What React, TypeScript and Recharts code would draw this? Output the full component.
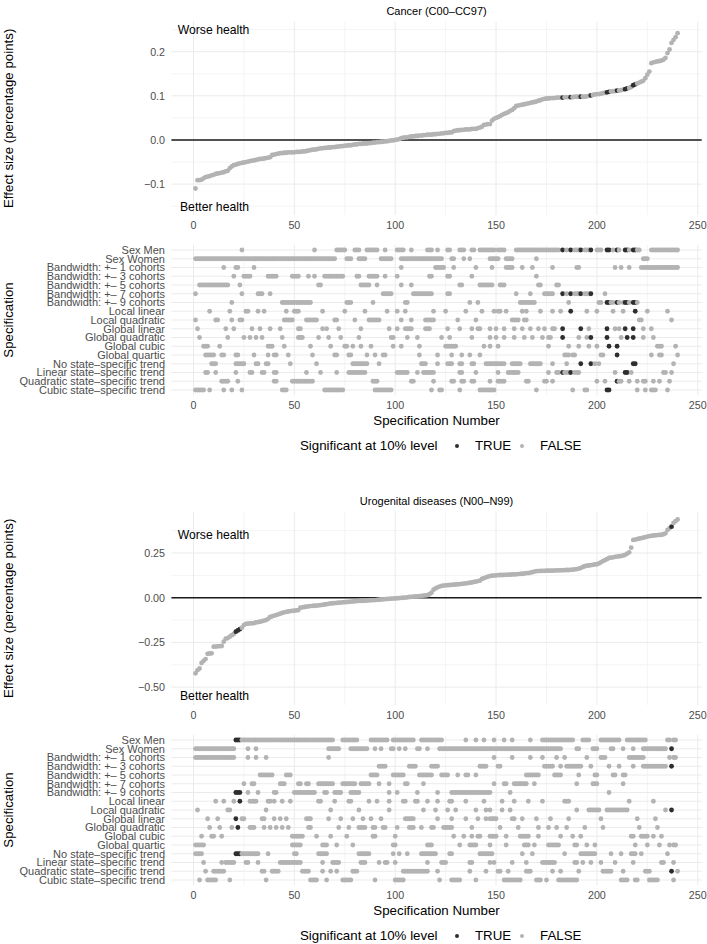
import React from "react";
import { ScatterChart, Scatter, XAxis, YAxis, ReferenceLine, ReferenceDot } from "recharts";

const FONT = '"Liberation Sans", Arial, Helvetica, sans-serif';
const GRAY = "#b3b3b3";
const DARK = "#2e2e2e";
const GRID = "#ebebeb";
const GRID_MINOR = "#f4f4f4";
const TICK = "#4d4d4d";

const X_TICKS = [0, 50, 100, 150, 200, 250];
const X_MINOR = [25, 75, 125, 175, 225];
const X_DOMAIN = [-10.95, 251.95];

const ROW_LABELS = [
  "Sex Men",
  "Sex Women",
  "Bandwidth: +\u2013 1 cohorts",
  "Bandwidth: +\u2013 3 cohorts",
  "Bandwidth: +\u2013 5 cohorts",
  "Bandwidth: +\u2013 7 cohorts",
  "Bandwidth: +\u2013 9 cohorts",
  "Local linear",
  "Local quadratic",
  "Global linear",
  "Global quadratic",
  "Global cubic",
  "Global quartic",
  "No state\u2013specific trend",
  "Linear state\u2013specific trend",
  "Quadratic state\u2013specific trend",
  "Cubic state\u2013specific trend",
];
const ROW_TICKS = ROW_LABELS.map((_, i) => i + 1);

// ---- Cancer (C00–CC97) ----
const cancerEffect = [
  -0.110, -0.091, -0.091, -0.090, -0.087, -0.084, -0.083, -0.082, -0.080, -0.079,
  -0.077, -0.076, -0.075, -0.074, -0.073, -0.071, -0.070, -0.064, -0.060, -0.057,
  -0.056, -0.054, -0.053, -0.052, -0.051, -0.050, -0.049, -0.048, -0.047, -0.046,
  -0.045, -0.044, -0.043, -0.043, -0.042, -0.041, -0.040, -0.039, -0.034, -0.033,
  -0.032, -0.031, -0.030, -0.030, -0.029, -0.029, -0.028, -0.028, -0.028, -0.028,
  -0.027, -0.027, -0.027, -0.026, -0.026, -0.025, -0.024, -0.023, -0.022, -0.022,
  -0.021, -0.020, -0.019, -0.019, -0.018, -0.018, -0.017, -0.017, -0.016, -0.016,
  -0.015, -0.015, -0.014, -0.014, -0.013, -0.013, -0.012, -0.012, -0.011, -0.010,
  -0.010, -0.009, -0.009, -0.008, -0.008, -0.008, -0.007, -0.007, -0.006, -0.006,
  -0.005, -0.005, -0.004, -0.004, -0.003, -0.003, -0.002, -0.001, -0.001, 0.000,
  0.001, 0.002, 0.004, 0.005, 0.006, 0.006, 0.007, 0.008, 0.008, 0.009,
  0.009, 0.010, 0.010, 0.011, 0.011, 0.012, 0.012, 0.012, 0.013, 0.013,
  0.014, 0.014, 0.015, 0.015, 0.016, 0.016, 0.017, 0.017, 0.020, 0.021,
  0.022, 0.022, 0.023, 0.023, 0.024, 0.024, 0.024, 0.025, 0.025, 0.025,
  0.027, 0.028, 0.030, 0.034, 0.035, 0.036, 0.036, 0.044, 0.048, 0.050,
  0.052, 0.054, 0.057, 0.059, 0.061, 0.063, 0.066, 0.068, 0.072, 0.077,
  0.078, 0.079, 0.080, 0.081, 0.082, 0.083, 0.084, 0.085, 0.086, 0.087,
  0.089, 0.090, 0.092, 0.093, 0.094, 0.094, 0.095, 0.095, 0.095, 0.096,
  0.096, 0.096, 0.096, 0.097, 0.097, 0.097, 0.097, 0.097, 0.098, 0.098,
  0.098, 0.098, 0.098, 0.098, 0.099, 0.100, 0.101, 0.102, 0.103, 0.104,
  0.104, 0.105, 0.106, 0.107, 0.108, 0.109, 0.110, 0.110, 0.111, 0.112,
  0.112, 0.113, 0.114, 0.115, 0.117, 0.118, 0.120, 0.124, 0.126, 0.128,
  0.130, 0.132, 0.134, 0.140, 0.148, 0.155, 0.174, 0.176, 0.177, 0.178,
  0.179, 0.180, 0.182, 0.186, 0.197, 0.205, 0.220, 0.227, 0.233, 0.242,
];
const cancerSig = [183, 187, 192, 197, 205, 206, 210, 214, 215, 218, 219];
const cancerRows = [
  "24,60,71-75,80-82,86-91,95,101-104,108,116-118,121,126,127,132-134,138,139,142-149,151-154,160-181,183,185,187,189-192,194-197,200-202,205,206,208,210,211,214-216,218-221,227-240",
  "1-70,76-78,82-85,93-98,103-123,128,129,134,137,147-151,155-158,170,223-225",
  "15,21,22,30,103,120-124,129,140,148,155-158,163,168,178,190,191,209,212,216,222-240",
  "20,25-28,37-41,49-52,57,60,65-74,81,82,87-91,95,101,117,118,126,127,138,170",
  "3-17,23,62,63,83-87,91,103,108,132,133,142-148,152-154,171,172,180,181",
  "1,24,32-34,38,94-98,109-118,126,127,160,167,174-178,183,185,187,189-192,194-197,204",
  "19,44-58,76-78,89,105,106,137,141,162-169,186,201,202,205-208,210,211,213-216,218-220",
  "8,18,26,27,32,35,46,50-52,64,75,85,96,101,105,119,125,135,143,149,151,152,155,163,165,172,178,182,187,195,200,208,213,219,225,235",
  "1,11,12,19,23,24,45-49,56-61,70,71,80,87-92,103,108,115-119,131,140,158-161,164,165,221,222,237",
  "2,16,20,29,33,38,43,52,53,64,66,72,83,97,101,105-108,115-117,126,132,138,141,142,147,150,154,159,163,167,171,174,178,179,183,192,196,205,209,211,214,218,223,227",
  "3,17,25,28,31,34,44,52-54,62,67,73,82,98,99,106,111,123,127,138,147,150,154,159,164,168,173,176,177,183,191,195,197,205,212,215,218,223,228",
  "5-7,13,37-39,45,58,68,75,76,79,83,88,99,103,112,125-130,144,147,151,176,186,191,196,200,206,210,230-232,239",
  "6-10,14,15,21,22,30,37,40,41,47,59,70,71,77,78,86,90,94,95,112,121,128,133,137,142,184-186,188,189,202,203,210,227,231,232,240",
  "9-11,21-25,31,32,36,37,48,61,79-86,92,113-115,121,126-128,132,133,138,139,145-154,158-162,167-172,178,185,192,197,199,201,218,219,238",
  "6,7,11,21,28,29,34,35,40,41,56,63,71,77-85,101-106,111,114-119,132,133,140,151,156-161,176,180,181,183-187,189-191,209,214,215,217,233,234,237",
  "14-17,22,40,41,49-59,89-91,108,109,119,128,129,133,134,138,139,147,151-154,165,166,174,175,178,200,204,210-212,216,220,223,224,228,231,236",
  "1-5,8,15,19,24,44-46,65-74,90-98,118,122,123,132,142-149,170,188,194,195,205,206,220,224,227-229,235",
];

// ---- Urogenital diseases (N00–N99) ----
const uroEffect = [
  -0.423, -0.405, -0.396, -0.365, -0.354, -0.343, -0.314, -0.312, -0.311, -0.274,
  -0.273, -0.272, -0.271, -0.270, -0.246, -0.229, -0.226, -0.218, -0.210, -0.203,
  -0.190, -0.183, -0.176, -0.168, -0.153, -0.146, -0.145, -0.144, -0.143, -0.142,
  -0.138, -0.136, -0.134, -0.131, -0.128, -0.125, -0.118, -0.108, -0.104, -0.100,
  -0.097, -0.093, -0.089, -0.085, -0.082, -0.079, -0.077, -0.075, -0.074, -0.073,
  -0.071, -0.069, -0.056, -0.054, -0.052, -0.050, -0.048, -0.047, -0.046, -0.045,
  -0.044, -0.043, -0.041, -0.040, -0.038, -0.036, -0.034, -0.032, -0.031, -0.030,
  -0.029, -0.028, -0.027, -0.026, -0.025, -0.024, -0.023, -0.022, -0.021, -0.020,
  -0.019, -0.018, -0.018, -0.017, -0.017, -0.016, -0.015, -0.014, -0.014, -0.013,
  -0.012, -0.011, -0.010, -0.009, -0.008, -0.007, -0.006, -0.005, -0.005, -0.004,
  -0.003, -0.002, -0.001, 0.000, 0.001, 0.002, 0.004, 0.005, 0.006, 0.007,
  0.008, 0.009, 0.010, 0.012, 0.013, 0.014, 0.020, 0.028, 0.045, 0.052,
  0.058, 0.062, 0.066, 0.068, 0.069, 0.070, 0.071, 0.072, 0.073, 0.074,
  0.075, 0.076, 0.077, 0.079, 0.080, 0.082, 0.084, 0.085, 0.088, 0.090,
  0.093, 0.095, 0.105, 0.109, 0.114, 0.118, 0.121, 0.123, 0.124, 0.125,
  0.126, 0.127, 0.127, 0.128, 0.128, 0.129, 0.129, 0.130, 0.130, 0.131,
  0.132, 0.133, 0.134, 0.135, 0.137, 0.138, 0.140, 0.143, 0.146, 0.149,
  0.149, 0.150, 0.150, 0.150, 0.151, 0.151, 0.151, 0.152, 0.152, 0.153,
  0.153, 0.153, 0.154, 0.154, 0.155, 0.155, 0.156, 0.157, 0.158, 0.160,
  0.163, 0.166, 0.172, 0.176, 0.179, 0.180, 0.182, 0.184, 0.186, 0.187,
  0.192, 0.198, 0.205, 0.210, 0.216, 0.222, 0.224, 0.226, 0.228, 0.230,
  0.232, 0.233, 0.236, 0.240, 0.247, 0.254, 0.280, 0.323, 0.325, 0.328,
  0.331, 0.333, 0.336, 0.339, 0.342, 0.344, 0.346, 0.348, 0.349, 0.350,
  0.351, 0.352, 0.355, 0.360, 0.379, 0.388, 0.397, 0.418, 0.428, 0.438,
];
const uroSig = [21, 22, 23, 237];
const uroRows = [
  "21-69,74-81,88-96,99-109,113-123,135,140,144,149,154,158,167,173-188,193-196,202-211,215-224,235,236,238,239",
  "1-20,27,31,67-72,78-86,90,93,98,99,102,105,111,112,116,122-182,190,191,198-200,207,208,213,218,223-234,237",
  "1-20,27,31,36,67,149,158,167,173,180,184,195,202-204,216-223,236,238,239",
  "92-95,107-110,118-121,142-145,151,152,174-178,182,185-192,197,206,211,218,223-234,237",
  "33-39,46-48,88-91,99-104,112-118,123-126,131,135,136,140,165-171,179-182,191,199,200,208,209,213,214",
  "25,29,30,43-45,52,53,56,57,62-69,74-80,83-87,92,97,105,106,114,149,154,155,159-165,169,190,198-200,213",
  "21-23,27,32,40,41,50-60,65,66,70-73,78-82,97,101,111,121,128-147,157,206",
  "11,15,20,23,28-31,37,38,40,44,48,62,63,70,77,78,87,91,97,104,105,110,111,116,121,127,128,135,144,153,159,166,173,184-186,216,228",
  "2,17,18,36,68,82,97,114,120,126,130,140,145,147,153,157,190,196-201,205-215,234,237",
  "7,12,21,24,25,34,35,40,43,46,56-58,67,73,79,84,88,93,105-109,121,128,135,141,145,147-150,158,159,163,170,177,186,202,220,229",
  "8,13,19,22,28-30,35,38,41,44,47,57,58,72,77,82-85,89,90,94,95,101,107-109,113,118,119,124-128,138,152,161,171,176,180,185,194,203,221,230",
  "4,9,10,14,49-54,61,68,76,89,90,100,129,134,138,141,142,147-150,155,162-166,171,182,188,192,217,218,222-225,228,232",
  "1-5,49-53,64-66,71,79,99,100,116-118,132,137-140,147,155,164-166,169,176-181,189,190,195,199,219,225,231,236,238,239",
  "1-4,21-32,37,50,51,62-66,82-87,99,102,106,113-120,127,128,142-148,163,168,184,192-199,207,212,217-219,222,235",
  "5,14,16-20,26,27,32,43-53,64,69-72,83-85,92,95,96,100,116,123-125,137,138,147,149,158,165,173-179,189,190,193,197,202,209,218,232,233,238",
  "6,10-15,34,35,39-42,54-57,64,68,71,79-81,104-116,121,137,145,151,152,156,165-167,178,182,191,203-207,213,224-226,237,240",
  "3,7-11,18,36,58-61,66,74-78,90,100-104,122,128-132,140,154-162,170-172,175,181-190,212-215,219,220,226-230,238",
];

const parseSpecs = (s: string): number[] => {
  const out = new Set<number>();
  s.split(",").forEach((part) => {
    const [a, b] = part.split("-").map(Number);
    if (b === undefined || isNaN(b)) out.add(a);
    else for (let k = a; k <= b; k++) out.add(k);
  });
  return Array.from(out).sort((p, q) => p - q);
};

const signed = (digits: number) => (v: number) =>
  (v < 0 ? "\u2212" : "") + Math.abs(v).toFixed(digits);

const renderDot = (props: any) => {
  const { cx, cy } = props;
  const sig = props.payload ? props.payload.sig : props.sig;
  if (cx == null || cy == null) return <g />;
  return <circle cx={cx} cy={cy} r={2.4} fill={sig ? DARK : GRAY} />;
};

// plain svg ticks so long labels never wrap
const makeYTick = (fmt: (v: number) => string, size: number) => (props: any) => (
  <text x={props.x} y={props.y} dy="0.355em" textAnchor="end" fontSize={size} fill={TICK}>
    {fmt(props.payload.value)}
  </text>
);
const XTick = (props: any) => (
  <text x={props.x} y={props.y} dy="0.71em" textAnchor="middle" fontSize={10.7} fill={TICK}>
    {props.payload.value}
  </text>
);
const RowTick = makeYTick((v) => ROW_LABELS[v - 1], 11);

type PanelProps = {
  top: number;
  title: string;
  effect: number[];
  sig: number[];
  rows: string[];
  yTicks: number[];
  yMinor: number[];
  yDomain: number[];
  digits: number;
  worseY: number;
  betterY: number;
};

function Panel({ top, title, effect, sig, rows, yTicks, yMinor, yDomain, digits, worseY, betterY }: PanelProps) {
  const sigSet = new Set(sig);
  const effectData = effect.map((v, i) => ({ n: i + 1, v, sig: sigSet.has(i + 1) }));
  const matrixData = rows.flatMap((s, r) =>
    parseSpecs(s).map((n) => ({ n, row: r + 1, sig: sigSet.has(n) }))
  );
  const EffectTick = makeYTick(signed(digits), 10.7);

  return (
    <div style={{ position: "absolute", left: 0, top, width: 707, height: 490 }}>
      <div
        style={{
          position: "absolute",
          left: 171.4,
          width: 530.3,
          top: 5.6,
          textAlign: "center",
          fontSize: 11,
          lineHeight: 1,
          color: "#000",
        }}
      >
        {title}
      </div>

      <div style={{ position: "absolute", left: 0, top: 0 }}>
        <ScatterChart width={707} height={235} margin={{ top: 21.7, right: 5.3, bottom: 0, left: 0 }}>
          {X_MINOR.map((x) => (
            <ReferenceLine key={"xm" + x} x={x} stroke={GRID_MINOR} strokeWidth={1} />
          ))}
          {yMinor.map((y) => (
            <ReferenceLine key={"ym" + y} y={y} stroke={GRID_MINOR} strokeWidth={1} />
          ))}
          {X_TICKS.map((x) => (
            <ReferenceLine key={"x" + x} x={x} stroke={GRID} strokeWidth={1} />
          ))}
          {yTicks.map((y) => (
            <ReferenceLine key={"y" + y} y={y} stroke={GRID} strokeWidth={1} />
          ))}
          <ReferenceLine y={0} stroke="#1a1a1a" strokeWidth={1.5} />
          <XAxis
            type="number"
            dataKey="n"
            domain={X_DOMAIN}
            ticks={X_TICKS}
            interval={0}
            allowDataOverflow
            axisLine={false}
            tickLine={false}
            tickSize={0}
            tickMargin={6.4}
            height={20}
            tick={XTick}
          />
          <YAxis
            type="number"
            dataKey="v"
            domain={yDomain}
            ticks={yTicks}
            interval={0}
            allowDataOverflow
            width={171.4}
            axisLine={false}
            tickLine={false}
            tickSize={0}
            tickMargin={6.4}
            tick={EffectTick}
            label={{
              value: "Effect size (percentage points)",
              angle: -90,
              position: "insideLeft",
              offset: 8.3,
              fontSize: 13.3,
              fill: "#000",
              style: { textAnchor: "middle" },
            }}
          />
          <Scatter data={effectData} isAnimationActive={false} shape={renderDot} />
          <ReferenceDot
            x={-7.8}
            y={worseY}
            r={0}
            fill="none"
            stroke="none"
            label={{ value: "Worse health", position: "right", offset: 0, fontSize: 12.2, fill: "#000" }}
          />
          <ReferenceDot
            x={-6.7}
            y={betterY}
            r={0}
            fill="none"
            stroke="none"
            label={{ value: "Better health", position: "right", offset: 0, fontSize: 12.2, fill: "#000" }}
          />
        </ScatterChart>
      </div>

      <div style={{ position: "absolute", left: 0, top: 235 }}>
        <ScatterChart width={707} height={195} margin={{ top: 9.75, right: 5.3, bottom: 0, left: 0 }}>
          {X_MINOR.map((x) => (
            <ReferenceLine key={"xm" + x} x={x} stroke={GRID_MINOR} strokeWidth={1} />
          ))}
          {X_TICKS.map((x) => (
            <ReferenceLine key={"x" + x} x={x} stroke={GRID} strokeWidth={1} />
          ))}
          {ROW_TICKS.map((y) => (
            <ReferenceLine key={"r" + y} y={y} stroke={GRID} strokeWidth={1} />
          ))}
          <XAxis
            type="number"
            dataKey="n"
            domain={X_DOMAIN}
            ticks={X_TICKS}
            interval={0}
            allowDataOverflow
            axisLine={false}
            tickLine={false}
            tickSize={0}
            tickMargin={6.6}
            height={34.75}
            tick={XTick}
            label={{
              value: "Specification Number",
              position: "insideBottom",
              offset: 5.3,
              fontSize: 13.3,
              fill: "#000",
            }}
          />
          <YAxis
            type="number"
            dataKey="row"
            domain={[0.4, 17.6]}
            reversed
            ticks={ROW_TICKS}
            interval={0}
            allowDataOverflow
            width={171.4}
            axisLine={false}
            tickLine={false}
            tickSize={0}
            tickMargin={6.4}
            tick={RowTick}
            label={{
              value: "Specification",
              angle: -90,
              position: "insideLeft",
              offset: 8.3,
              fontSize: 13.3,
              fill: "#000",
              style: { textAnchor: "middle" },
            }}
          />
          <Scatter data={matrixData} isAnimationActive={false} shape={renderDot} />
        </ScatterChart>
      </div>

      <div style={{ position: "absolute", left: 0, top: 445.7 - 6.5, width: 707, height: 13, fontSize: 13.3, lineHeight: "13px", color: "#000" }}>
        <span style={{ position: "absolute", left: 300, top: 0 }}>Significant at 10% level</span>
        <span style={{ position: "absolute", left: 454.7, top: 4.5, width: 4, height: 4, borderRadius: 2, background: DARK }} />
        <span style={{ position: "absolute", left: 475, top: 0 }}>TRUE</span>
        <span style={{ position: "absolute", left: 519.7, top: 4.5, width: 4, height: 4, borderRadius: 2, background: GRAY }} />
        <span style={{ position: "absolute", left: 540, top: 0 }}>FALSE</span>
      </div>
    </div>
  );
}

export default function App() {
  return (
    <div
      style={{
        position: "absolute",
        left: 0,
        top: 0,
        width: 707,
        height: 944,
        background: "#fff",
        fontFamily: FONT,
        overflow: "hidden",
      }}
    >
      <Panel
        top={0}
        title={"Cancer (C00\u2013CC97)"}
        effect={cancerEffect}
        sig={cancerSig}
        rows={cancerRows}
        yTicks={[-0.1, 0, 0.1, 0.2]}
        yMinor={[-0.15, -0.05, 0.05, 0.15, 0.25]}
        yDomain={[-0.17, 0.268]}
        digits={1}
        worseY={0.25}
        betterY={-0.152}
      />
      <Panel
        top={490}
        title={"Urogenital diseases (N00\u2013N99)"}
        effect={uroEffect}
        sig={uroSig}
        rows={uroRows}
        yTicks={[-0.5, -0.25, 0, 0.25]}
        yMinor={[-0.375, -0.125, 0.125, 0.375]}
        yDomain={[-0.6, 0.481]}
        digits={2}
        worseY={0.35}
        betterY={-0.548}
      />
    </div>
  );
}
